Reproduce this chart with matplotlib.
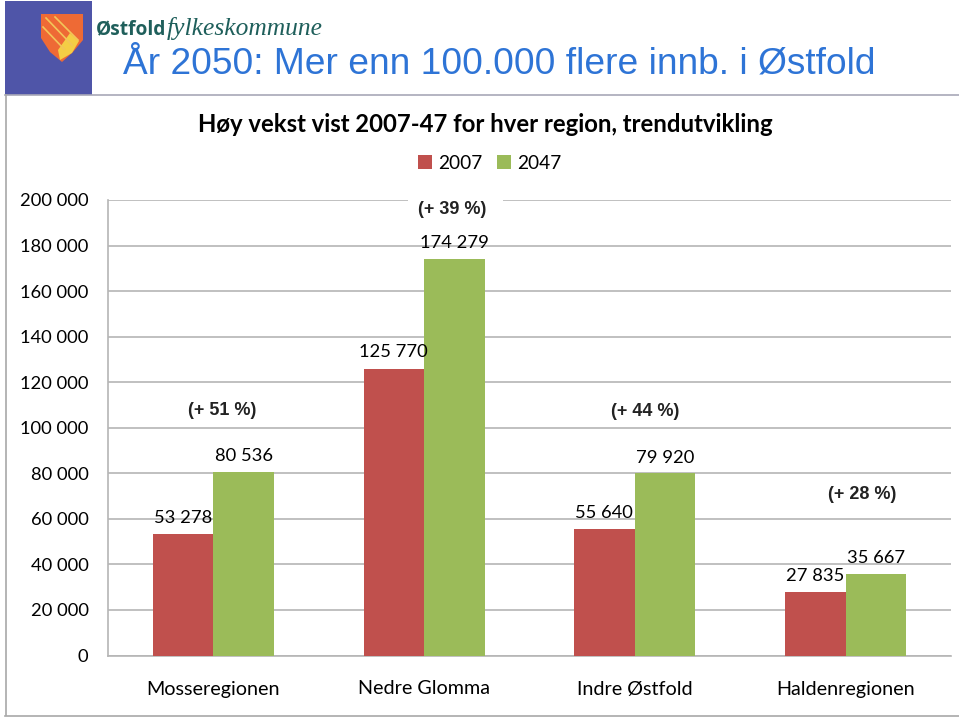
import matplotlib
matplotlib.use("Agg")
import matplotlib.pyplot as plt
from matplotlib.patches import Polygon, Rectangle

# Data
regions = ["Mosseregionen", "Nedre Glomma", "Indre Østfold", "Haldenregionen"]
values_2007 = [53278, 125770, 55640, 27835]
values_2047 = [80536, 174279, 79920, 35667]
labels_2007 = ["53 278", "125 770", "55 640", "27 835"]
labels_2047 = ["80 536", "174 279", "79 920", "35 667"]
growth = ["(+ 51 %)", "(+ 39 %)", "(+ 44 %)", "(+ 28 %)"]
yticks = [0, 20000, 40000, 60000, 80000, 100000, 120000, 140000, 160000, 180000, 200000]
ytick_labels = ["0", "20 000", "40 000", "60 000", "80 000", "100 000", "120 000",
                "140 000", "160 000", "180 000", "200 000"]

W, H = 959, 718
RED = "#C0504D"
GREEN = "#9BBB59"
GRID = "#B5B5B5"
plt.rcParams["font.family"] = ["Lato", "DejaVu Sans"]

fig = plt.figure(figsize=(W / 100, H / 100), dpi=100, facecolor="white")

# Slide background layer, in pixel coordinates
bg = fig.add_axes([0, 0, 1, 1])
bg.set_xlim(0, W)
bg.set_ylim(H, 0)
bg.axis("off")
bg.add_patch(Rectangle((5, 1), 87, 94, color="#4F55A8", lw=0))
bg.add_patch(Polygon([(41, 14), (83, 14), (83, 40), (73, 52), (62, 62), (50, 52), (41, 38)],
                     closed=True, color="#EE6A35", lw=0))
bg.add_patch(Polygon([(60, 60), (72, 53), (79, 41), (70, 33), (58, 50)],
                     closed=True, color="#F4CE45", lw=0))
bg.plot([46, 72], [18, 45], color="#F2C65A", lw=1.2)
bg.plot([55, 78], [17, 40], color="#F2C65A", lw=1.2)
bg.plot([43, 64], [27, 49], color="#F2C65A", lw=1.2)
bg.plot([5, 959], [95, 95], color="#A8A8B8", lw=1.2)
bg.plot([5.5, 5.5], [95, 715], color="#A8A8A8", lw=1.2)
bg.plot([5, 959], [715.5, 715.5], color="#A8A8A8", lw=1.2)
bg.text(96, 29, "Østfold", fontsize=13.8, fontweight="bold", family="Open Sans",
        color="#1F5F5B", va="center", ha="left")
bg.text(167, 29, "fylkeskommune", fontsize=18.4, style="italic", family="Liberation Serif",
        color="#1F5F5B", va="center", ha="left")
bg.text(123, 64, "År 2050: Mer enn 100.000 flere innb. i Østfold", fontsize=26.7,
        family="Liberation Sans", color="#2E74D6", va="center", ha="left")
bg.text(485.5, 124, "Høy vekst vist 2007-47 for hver region, trendutvikling", fontsize=17.2,
        fontweight="bold", color="black", va="center", ha="center")

# Chart axes
left, right, top, bottom = 108, 951, 200, 655.5
ax = fig.add_axes([left / W, 1 - bottom / H, (right - left) / W, (bottom - top) / H])
ax.patch.set_alpha(0)
x = list(range(len(regions)))
bar_w = 0.287
ax.bar([i - bar_w / 2 for i in x], values_2007, bar_w, color=RED, label="2007", zorder=3)
ax.bar([i + bar_w / 2 for i in x], values_2047, bar_w, color=GREEN, label="2047", zorder=3)
ax.set_xlim(-0.5, 3.5)
ax.set_ylim(0, 200000)
ax.set_yticks(yticks)
ax.set_yticklabels(ytick_labels, fontsize=13.2, color="black")
ax.set_xticks(x)
ax.set_xticklabels(regions, fontsize=14.2, color="black")
ax.tick_params(axis="both", length=0)
ax.tick_params(axis="y", pad=14)
ax.tick_params(axis="x", pad=18)
ax.grid(axis="y", color=GRID, lw=1.2, zorder=0)
ax.set_axisbelow(True)
for side in ["top", "right"]:
    ax.spines[side].set_visible(False)
for side in ["left", "bottom"]:
    ax.spines[side].set_color(GRID)
    ax.spines[side].set_linewidth(1.2)

# Gap in the top gridline behind the note
ax.hlines(200000, 0.923, 1.374, color="white", lw=3, zorder=2, clip_on=False)

# Data labels
offsets_2007 = [(-0.145, 7200), (-0.145, 7700), (-0.145, 7000), (-0.145, 7200)]
offsets_2047 = [(0.145, 7200), (0.145, 7000), (0.145, 6600), (0.145, 7000)]
for i in x:
    ax.text(i + offsets_2007[i][0], values_2007[i] + offsets_2007[i][1], labels_2007[i],
            fontsize=13.2, ha="center", va="center", zorder=5, clip_on=False)
    ax.text(i + offsets_2047[i][0], values_2047[i] + offsets_2047[i][1], labels_2047[i],
            fontsize=13.2, ha="center", va="center", zorder=5, clip_on=False)

# Growth notes
growth_pos = [(0.04, 107500), (1.132, 196000), (2.05, 107000), (3.08, 70500)]
for note, pos in zip(growth, growth_pos):
    ax.text(pos[0], pos[1], note, fontsize=13, fontweight="bold", family="Liberation Sans",
            color="#222222", ha="center", va="center", zorder=5, clip_on=False,
            bbox=dict(facecolor="white", edgecolor="none", pad=2))

# Legend
fig.legend(loc="center", bbox_to_anchor=(489.5 / W, 1 - 163.5 / H), ncol=2, frameon=False,
           fontsize=13.8, handlelength=0.75, handleheight=0.75, handletextpad=0.3,
           columnspacing=0.75)

fig.savefig("out.png", dpi=100)
